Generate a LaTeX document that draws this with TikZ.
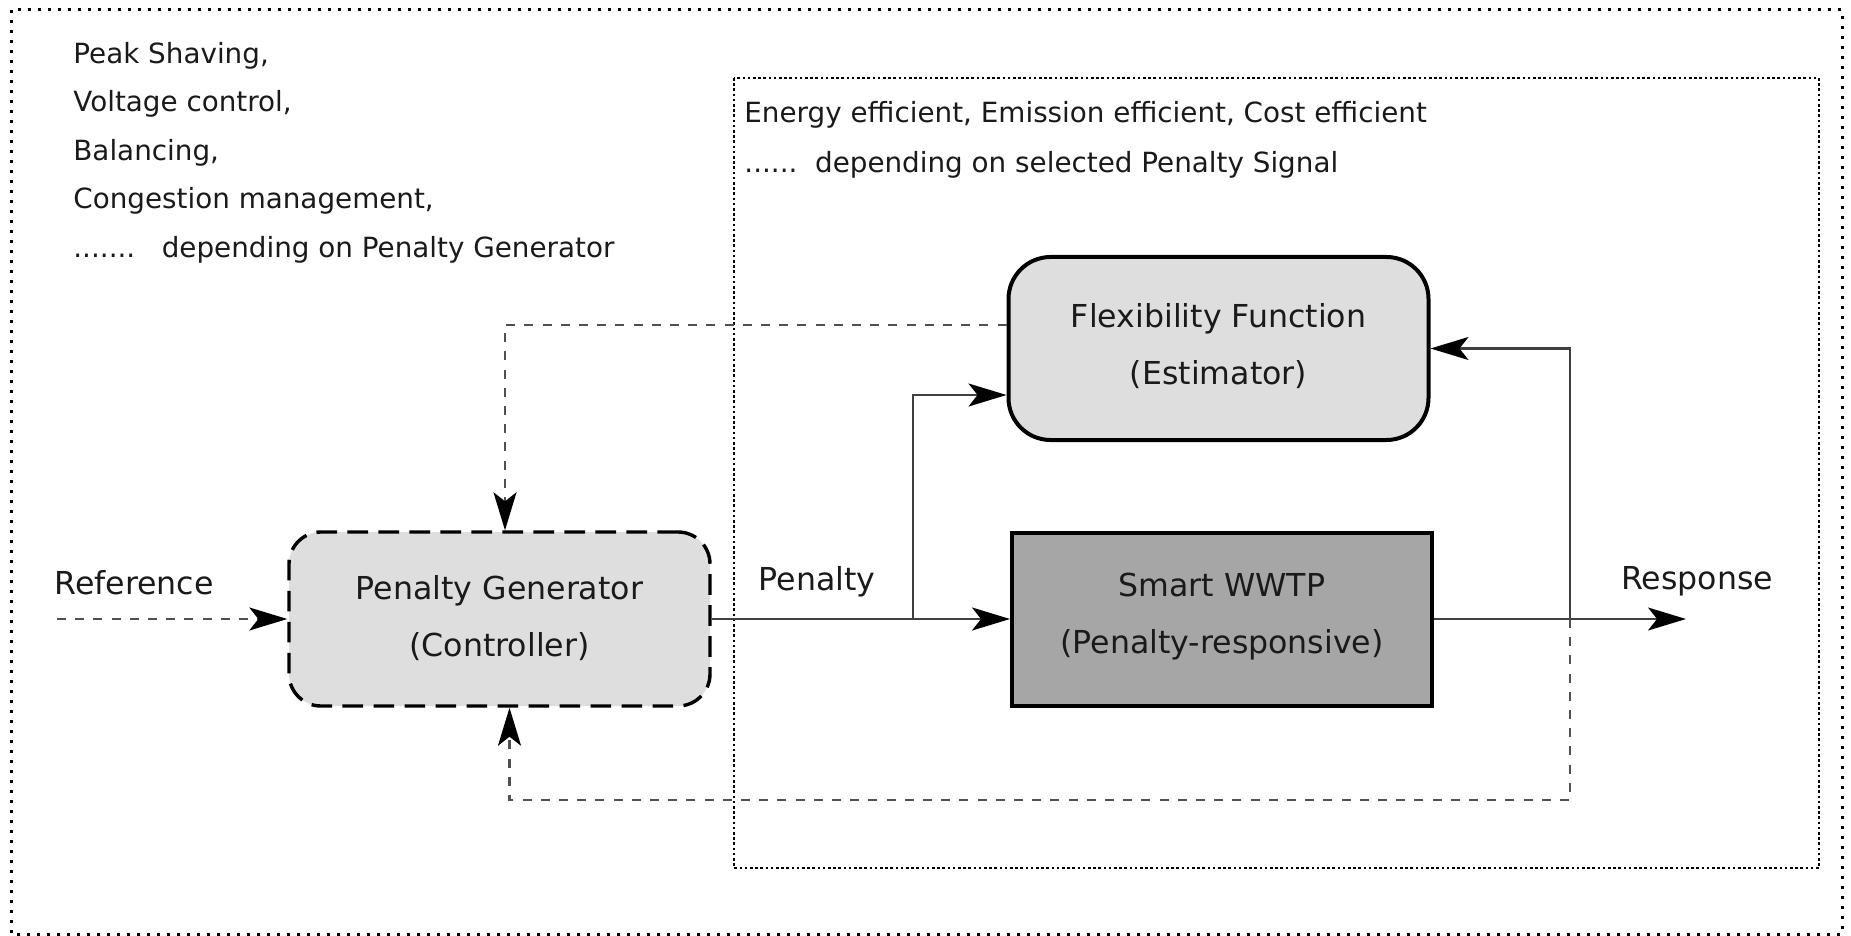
\documentclass[tikz,border=0pt]{standalone}
\usepackage{fontspec}
\setmainfont{DejaVu Sans}
\usetikzlibrary{arrows.meta}
\definecolor{boxgray}{HTML}{DEDEDE}
\definecolor{plantgray}{HTML}{A6A6A6}
\definecolor{wire}{HTML}{404040}
\definecolor{dashgray}{HTML}{505050}
\definecolor{ink}{HTML}{1A1A1A}

\begin{document}
\begin{tikzpicture}[x=0.5pt,y=-0.5pt,
  every node/.style={text=ink, inner sep=0pt},
  big/.style={font=\fontsize{15.8}{28.5}\selectfont},
  small/.style={font=\fontsize{13.9}{17}\selectfont},
  tip/.style={-{Stealth[length=19pt,width=11.5pt,inset=4.5pt,color=black]}},
  wireline/.style={draw=wire, line width=1.1pt, tip},
  dashwire/.style={draw=dashgray, line width=1.1pt, dash pattern=on 4.5pt off 4.6pt, tip},
  outerframe/.style={draw=black, line width=1.5pt, dash pattern=on 1.5pt off 3.5pt},
  innerframe/.style={draw=black, line width=1.3pt, dash pattern=on 1.3pt off 1.3pt},
  estbox/.style={big, draw=black, line width=2pt, fill=boxgray, rounded corners=21pt,
    align=center, minimum width=210pt, minimum height=91.5pt},
  plantbox/.style={big, draw=black, line width=2pt, fill=plantgray,
    align=center, minimum width=210pt, minimum height=86.5pt},
  ctrlbox/.style={big, draw=black, line width=1.7pt, fill=boxgray, rounded corners=16pt,
    dash pattern=on 10.3pt off 5.2pt, align=center, minimum width=210.5pt, minimum height=87pt},
]
\useasboundingbox (0,0) rectangle (1851,936);

% frames
\draw[outerframe] (11,10) rectangle (1842,934);
\draw[innerframe] (734,78) rectangle (1819,868);

% service lists
\node[small, anchor=west] (s1) at (73,56) {Peak Shaving,};
\node[small, anchor=west] (s2) at (73,104) {Voltage control,};
\node[small, anchor=west] (s3) at (73,153) {Balancing,};
\node[small, anchor=west] (s4) at (73,201) {Congestion management,};
\node[small, anchor=west] (s5) at (73,250) {.......\ \ \ depending on Penalty Generator};

\node[small, anchor=west] (e1) at (744,114.5) {Energy efficient, Emission efficient, Cost efficient};
\node[small, anchor=west] (e2) at (744,164.5) {......\ \ depending on selected Penalty Signal};

% blocks (extra text depth lifts the two lines a little)
\node[estbox, text depth=4.5pt] (ff) at (1218.5,348.5) {Flexibility Function\\(Estimator)};
\node[plantbox, text depth=6.1pt] (sw) at (1222,619) {Smart WWTP\\(Penalty-responsive)};
\node[ctrlbox, text depth=3.3pt] (pg) at (499.5,619) {Penalty Generator\\(Controller)};

% signal labels
\node[big] (lref) at (134,583) {Reference};
\node[big] (lpen) at (817,581.5) {Penalty};
\node[big] (lres) at (1697,581.5) {Response};

% connection points
\coordinate (refin) at (57,619);
\coordinate (branch) at (913,619);
\coordinate (tap) at (1570,619);
\coordinate (resout) at (1686,619);
\coordinate (lowturn) at (1570,800);

% signal flow
\draw[dashwire] (refin) -- (pg.west);
\draw[wireline] (pg.east) -- (sw.west);
\draw[wireline] (branch) |- ([yshift=-23.25pt]ff.west);
\draw[wireline] (sw.east) -- (resout);
\draw[wireline] (tap) |- (ff.east);
\draw[dashwire] (tap) -- (lowturn) -| ([xshift=5pt]pg.south);
\draw[dashwire] ([yshift=11.75pt]ff.west) -| ([xshift=2.75pt]pg.north);
\end{tikzpicture}
\end{document}
